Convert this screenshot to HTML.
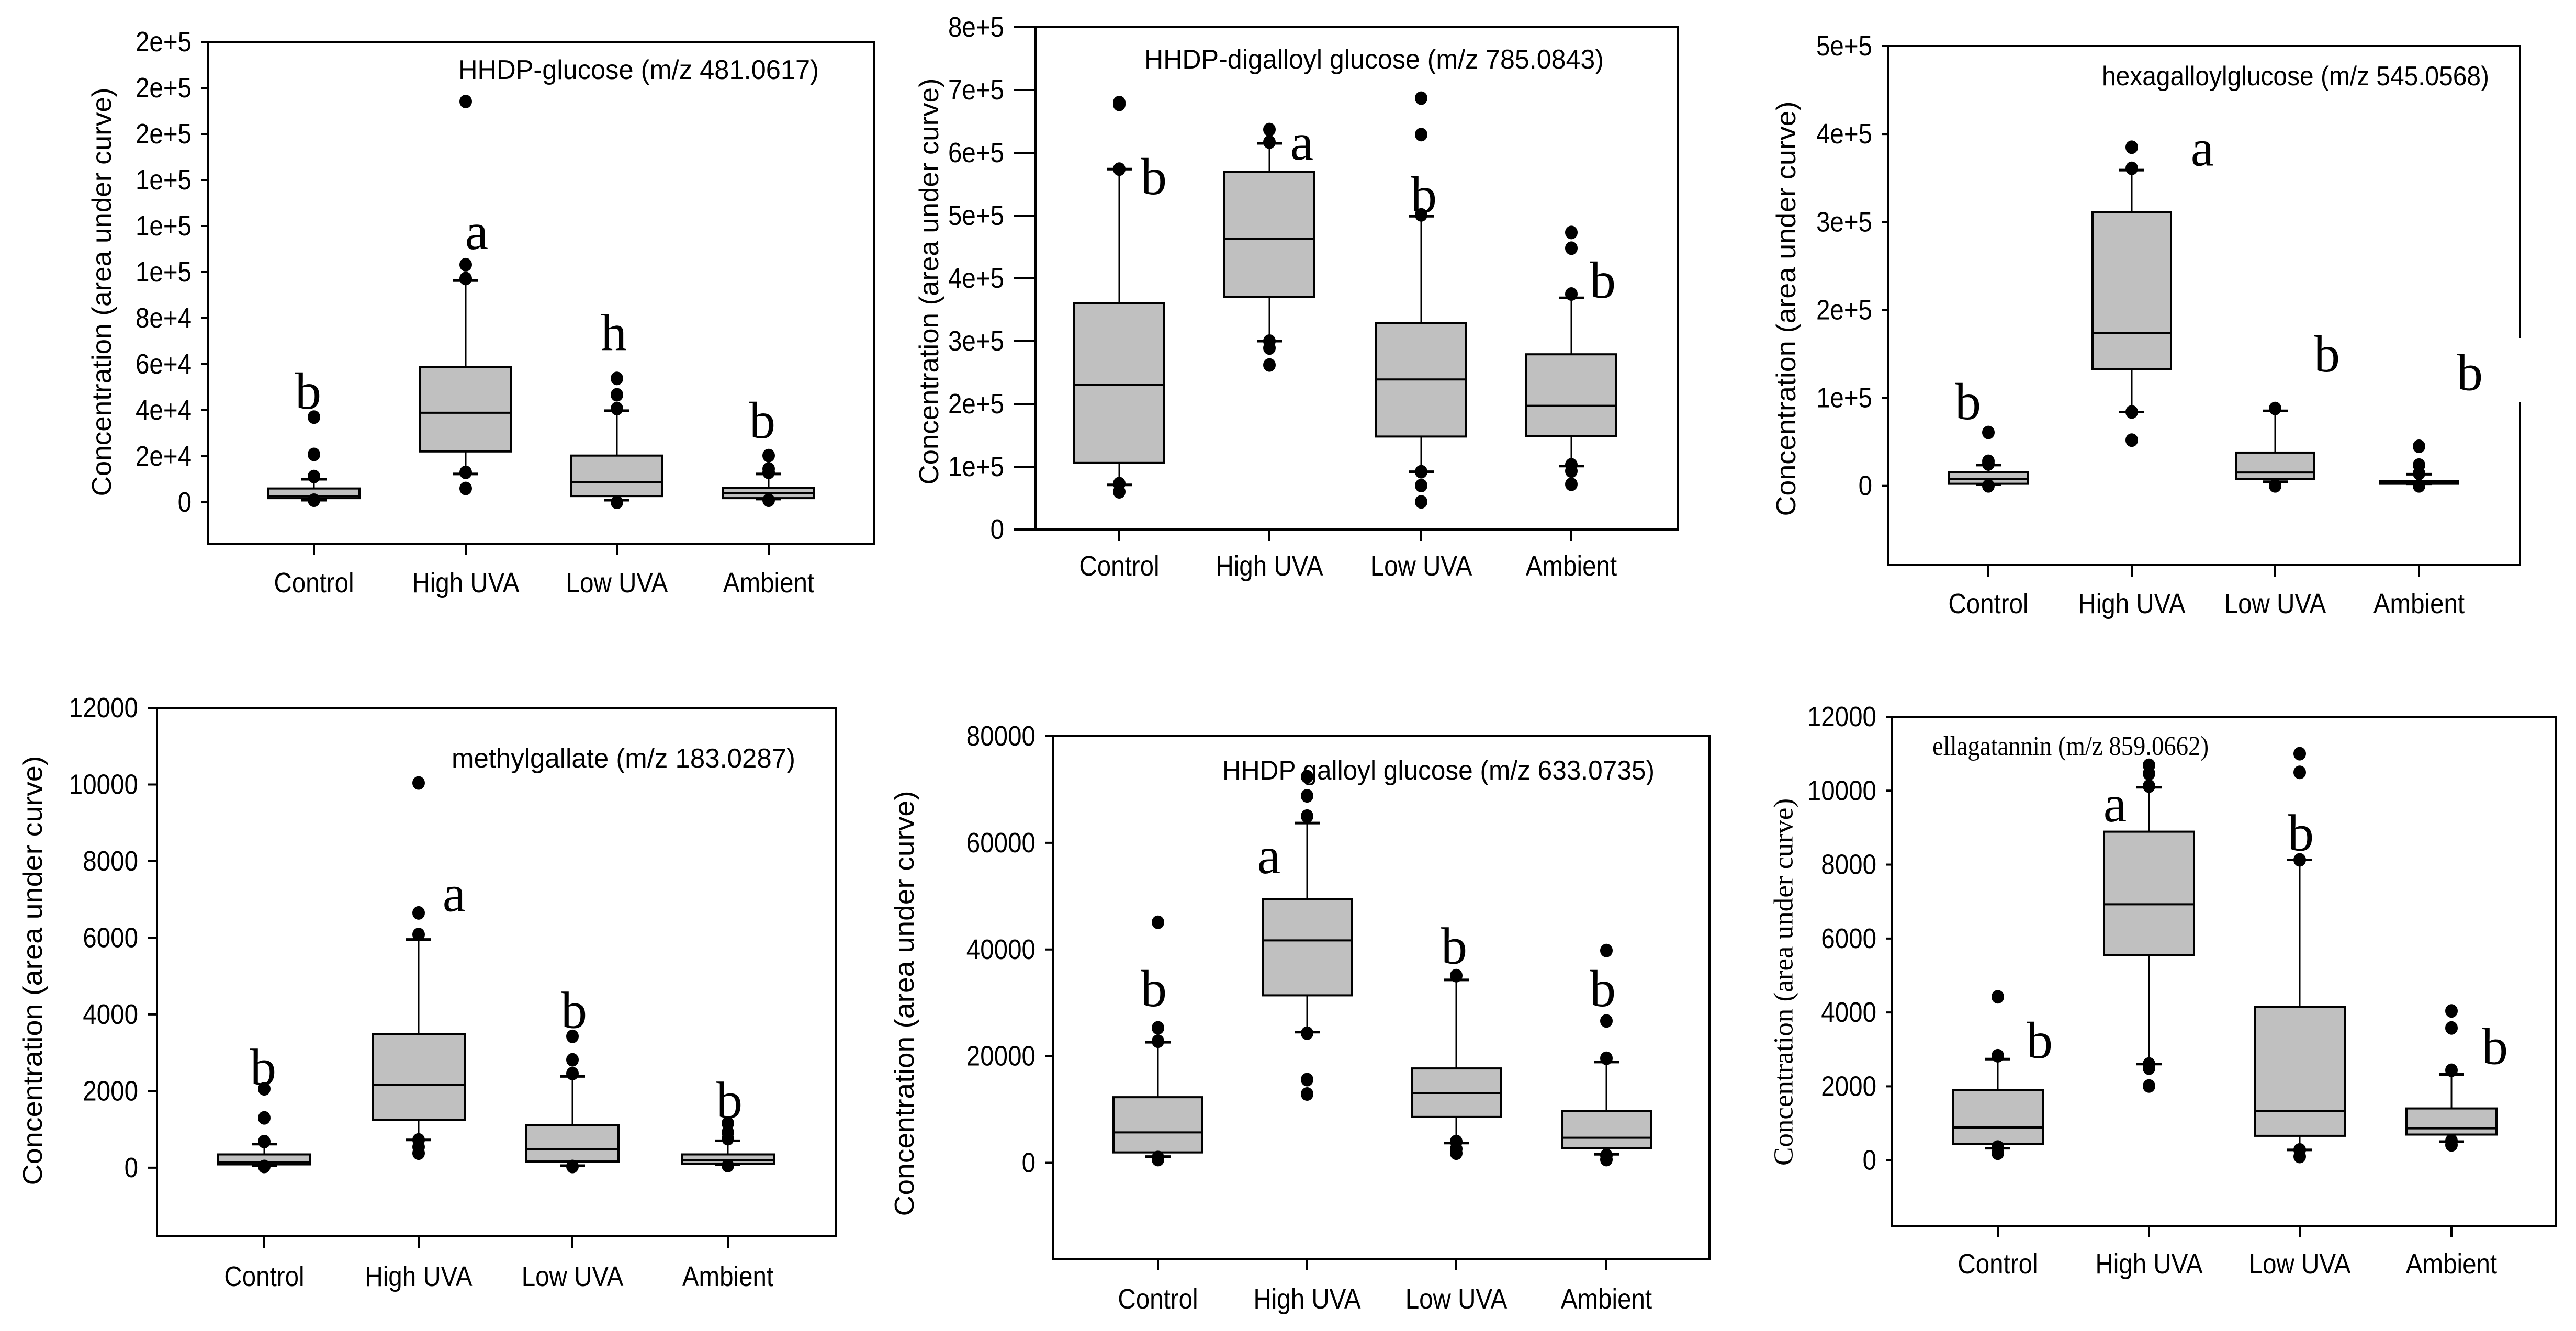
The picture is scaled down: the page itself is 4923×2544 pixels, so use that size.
<!DOCTYPE html>
<html><head><meta charset="utf-8"><title>Concentration box plots</title>
<style>html,body{margin:0;padding:0;background:#fff;}svg{display:block;}</style></head>
<body>
<svg id="fig" xmlns="http://www.w3.org/2000/svg" width="4923" height="2544" viewBox="0 0 4923 2544"></svg>
<script>
const categories = ["Control","High UVA","Low UVA","Ambient"];

// Panel 1: HHDP-glucose
const p1Q1 = [1800, 22100, 2700, 1800];
const p1Med = [2700, 38900, 8700, 4000];
const p1Q3 = [6000, 58800, 20300, 6300];
const p1Lo = [900, 12300, 900, 1400];
const p1Hi = [10000, 96300, 39800, 12300];
const p1Out = [[37000,20800,11200,900],[174100,103200,97200,13000,6000],[53800,46700,40700,0],[20300,14500,13000,900]];
const p1Ticks = [0,20000,40000,60000,80000,100000,120000,140000,160000,180000,200000];
const p1TickLabels = ["0","2e+4","4e+4","6e+4","8e+4","1e+5","1e+5","1e+5","2e+5","2e+5","2e+5"];
const p1Letters = ["b","a","h","b"];
const p1LetterVal = [40700,110000,66000,28000];

// Panel 2: HHDP-digalloyl glucose
const p2Q1 = [106000, 370000, 148000, 149000];
const p2Med = [230000, 463000, 239000, 197000];
const p2Q3 = [360000, 570000, 329000, 279000];
const p2Lo = [71000, 300000, 92000, 101000];
const p2Hi = [574000, 615000, 499000, 369000];
const p2Out = [[677000,680000,574000,73000,60000],[637000,617000,300000,289000,262000],[687000,629000,501000,92000,70000,44000],[473000,448000,375000,103000,93000,72000]];
const p2Ticks = [0,100000,200000,300000,400000,500000,600000,700000,800000];
const p2TickLabels = ["0","1e+5","2e+5","3e+5","4e+5","5e+5","6e+5","7e+5","8e+5"];
const p2Letters = ["b","a","b","b"];
const p2LetterVal = [534000,589000,505000,369000];

// Panel 3: hexagalloylglucose
const p3Q1 = [2400, 133000, 8100, 2400];
const p3Med = [8100, 174000, 15200, 3800];
const p3Q3 = [15600, 311000, 37900, 5700];
const p3Lo = [1400, 84000, 4700, 2400];
const p3Hi = [23700, 359000, 85300, 13300];
const p3Out = [[60700,28000,24900,0],[385000,361000,84000,52000],[88000,0],[45000,23700,14200,0]];
const p3Ticks = [0,100000,200000,300000,400000,500000];
const p3TickLabels = ["0","1e+5","2e+5","3e+5","4e+5","5e+5"];
const p3Letters = ["b","a","b","b"];
const p3LetterVal = [75800,364000,130000,109000];

// Panel 4: methylgallate
const p4Q1 = [87, 1245, 162, 108];
const p4Med = [141, 2166, 487, 195];
const p4Q3 = [347, 3487, 1116, 347];
const p4Lo = [54, 726, 54, 87];
const p4Hi = [617, 5957, 2383, 704];
const p4Out = [[2058,1300,682,32],[10040,6649,6086,726,541,379],[3428,2816,2458,32],[1159,920,758,54]];
const p4Ticks = [0,2000,4000,6000,8000,10000,12000];
const p4TickLabels = ["0","2000","4000","6000","8000","10000","12000"];
const p4Letters = ["b","a","b","b"];
const p4LetterVal = [2166,6693,3650,1300];

// Panel 5: HHDP galloyl glucose
const p5Q1 = [1950, 31400, 8600, 2700];
const p5Med = [5700, 41700, 13100, 4700];
const p5Q3 = [12300, 49400, 17700, 9700];
const p5Lo = [1170, 24500, 3700, 1600];
const p5Hi = [22600, 63700, 34300, 18900];
const p5Out = [[45100,25300,22800,1000,600],[72400,68800,65000,24300,15600,12900],[35100,4000,2600,1800],[39800,26600,19600,1400,600]];
const p5Ticks = [0,20000,40000,60000,80000];
const p5TickLabels = ["0","20000","40000","60000","80000"];
const p5Letters = ["b","a","b","b"];
const p5LetterVal = [29400,54300,37400,29400];

// Panel 6: ellagatannin
const p6Q1 = [438, 5546, 662, 696];
const p6Med = [887, 6926, 1336, 864];
const p6Q3 = [1897, 8891, 4153, 1403];
const p6Lo = [326, 2604, 281, 505];
const p6Hi = [2739, 10092, 8128, 2324];
const p6Out = [[4423,2829,359,191],[10687,10462,10125,2604,2492,2009],[11001,10496,8128,281,101],[4041,3581,2436,528,415]];
const p6Ticks = [0,2000,4000,6000,8000,10000,12000];
const p6TickLabels = ["0","2000","4000","6000","8000","10000","12000"];
const p6Letters = ["b","a","b","b"];
const p6LetterVal = [2773,9172,8386,2604];

const SANS = '"Liberation Sans", Arial, sans-serif';
const SERIF = '"Liberation Serif", "Times New Roman", serif';
const NS = "http://www.w3.org/2000/svg";
const svg = document.getElementById("fig");

const panels = [
 {key:"hhdp-glucose", title:"HHDP-glucose (m/z 481.0617)", L:398,R:1671,T:80,B:1039,vmin:-17950,vmax:200000,cx:[600,890,1179,1469],hw:87,tick:14,
  tx1:876,tx2:1565,tb:151,tSerif:false,ytX:195,ytY:558,ytLen:781,ytSerif:false,xlB:1132,ldx:[-11,21,-6,-12],
  q1:p1Q1,med:p1Med,q3:p1Q3,lo:p1Lo,hi:p1Hi,out:p1Out,ticks:p1Ticks,tl:p1TickLabels,let:p1Letters,lv:p1LetterVal},
 {key:"hhdp-digalloyl-glucose", title:"HHDP-digalloyl glucose (m/z 785.0843)", L:1979,R:3207,T:52,B:1012,vmin:0,vmax:800000,cx:[2139,2426,2716,3003],hw:86,tick:42,
  tx1:2187,tx2:3065,tb:131,tSerif:false,ytX:1776,ytY:538,ytLen:777,ytSerif:false,xlB:1100,ldx:[66,62,5,60],
  q1:p2Q1,med:p2Med,q3:p2Q3,lo:p2Lo,hi:p2Hi,out:p2Out,ticks:p2Ticks,tl:p2TickLabels,let:p2Letters,lv:p2LetterVal},
 {key:"hexagalloylglucose", title:"hexagalloylglucose (m/z 545.0568)", L:3608,R:4816,T:88,B:1080,vmin:-90000,vmax:500000,cx:[3800,4074,4348,4623],hw:75,tick:12,
  tx1:4017,tx2:4757,tb:163,tSerif:false,ytX:3414,ytY:590,ytLen:793,ytSerif:false,xlB:1172,ldx:[-39,135,99,97],gap:[646,769],
  q1:p3Q1,med:p3Med,q3:p3Q3,lo:p3Lo,hi:p3Hi,out:p3Out,ticks:p3Ticks,tl:p3TickLabels,let:p3Letters,lv:p3LetterVal},
 {key:"methylgallate", title:"methylgallate (m/z 183.0287)", L:300,R:1597,T:1353,B:2363,vmin:-1790,vmax:12000,cx:[505,800,1094,1391],hw:88,tick:18,
  tx1:863,tx2:1520,tb:1467,tSerif:false,ytX:63,ytY:1855,ytLen:821,ytSerif:false,xlB:2458,ldx:[-2,68,3,3],
  q1:p4Q1,med:p4Med,q3:p4Q3,lo:p4Lo,hi:p4Hi,out:p4Out,ticks:p4Ticks,tl:p4TickLabels,let:p4Letters,lv:p4LetterVal},
 {key:"hhdp-galloyl-glucose", title:"HHDP galloyl glucose (m/z 633.0735)", L:2013,R:3267,T:1407,B:2406,vmin:-18000,vmax:80000,cx:[2213,2498,2783,3070],hw:85,tick:16,
  tx1:2336,tx2:3162,tb:1490,tSerif:false,ytX:1729,ytY:1918,ytLen:813,ytSerif:false,xlB:2501,ldx:[-8,-73,-4,-7],
  q1:p5Q1,med:p5Med,q3:p5Q3,lo:p5Lo,hi:p5Hi,out:p5Out,ticks:p5Ticks,tl:p5TickLabels,let:p5Letters,lv:p5LetterVal},
 {key:"ellagatannin", title:"ellagatannin (m/z 859.0662)", L:3616,R:4884,T:1370,B:2343,vmin:-1774,vmax:12000,cx:[3818,4107,4395,4685],hw:86,tick:12,
  tx1:3693,tx2:4221,tb:1443,tSerif:true,ytX:3409,ytY:1877,ytLen:702,ytSerif:true,xlB:2434,ldx:[80,-65,2,83],
  q1:p6Q1,med:p6Med,q3:p6Q3,lo:p6Lo,hi:p6Hi,out:p6Out,ticks:p6Ticks,tl:p6TickLabels,let:p6Letters,lv:p6LetterVal}
];

function mk(tag, attrs, parent){
  const e = document.createElementNS(NS, tag);
  for (const k in attrs) e.setAttribute(k, attrs[k]);
  (parent||svg).appendChild(e);
  return e;
}
function condense(t, f){
  const len = t.getComputedTextLength();
  if (len > 0) { t.setAttribute("textLength", (len * f).toFixed(1)); t.setAttribute("lengthAdjust", "spacingAndGlyphs"); }
}

panels.forEach(function(p){
  const g = mk("g", {});
  
  
  const y = function(v){ return p.B - (v - p.vmin) / (p.vmax - p.vmin) * (p.B - p.T); };

  const t = mk("text", {x:p.tx1, y:p.tb, "font-family": p.tSerif?SERIF:SANS, "font-size":52, textLength:p.tx2-p.tx1, lengthAdjust:"spacingAndGlyphs"}, g);
  t.textContent = p.title;
  
  

  const yt = mk("text", {x:p.ytX, y:p.ytY, "font-family": p.ytSerif?SERIF:SANS, "font-size":52, "text-anchor":"middle", "dominant-baseline":"central",
    transform:"rotate(-90 "+p.ytX+" "+p.ytY+")", textLength:p.ytLen, lengthAdjust:"spacingAndGlyphs"}, g);
  yt.textContent = "Concentration (area under curve)";
  
  

  p.ticks.forEach(function(v, i){
    const ty = y(v);
    const tk = mk("line", {x1:p.L - p.tick, x2:p.L, y1:ty, y2:ty, stroke:"#000", "stroke-width":4}, g);
    
    
    const tl = mk("text", {x:p.L - p.tick - 18, y:ty, "font-family":SANS, "font-size":54, "text-anchor":"end", "dominant-baseline":"central"}, g);
    tl.textContent = p.tl[i];
    
    
    condense(tl, 0.88);
  });

  categories.forEach(function(c, i){
    const x = p.cx[i], hw = p.hw, cap = 24;
    const bg = mk("g", {}, g);
    
    
    mk("line", {x1:x, x2:x, y1:y(p.hi[i]), y2:y(p.q3[i]), stroke:"#000", "stroke-width":3}, bg);
    mk("line", {x1:x, x2:x, y1:y(p.q1[i]), y2:y(p.lo[i]), stroke:"#000", "stroke-width":3}, bg);
    mk("line", {x1:x-cap, x2:x+cap, y1:y(p.hi[i]), y2:y(p.hi[i]), stroke:"#000", "stroke-width":5}, bg);
    mk("line", {x1:x-cap, x2:x+cap, y1:y(p.lo[i]), y2:y(p.lo[i]), stroke:"#000", "stroke-width":5}, bg);
    mk("rect", {x:x-hw, y:y(p.q3[i]), width:2*hw, height:Math.max(2, y(p.q1[i]) - y(p.q3[i])), fill:"#c0c0c0", stroke:"#000", "stroke-width":4}, bg);
    mk("line", {x1:x-hw, x2:x+hw, y1:y(p.med[i]), y2:y(p.med[i]), stroke:"#000", "stroke-width":4}, bg);
    p.out[i].forEach(function(v){
      const d = mk("ellipse", {cx:x, cy:y(v), rx:12, ry:13, fill:"#000"}, bg);
      
      
    });
    mk("line", {x1:x, x2:x, y1:p.B, y2:p.B+22, stroke:"#000", "stroke-width":4}, g);
    const xl = mk("text", {x:x, y:p.xlB, "font-family":SANS, "font-size":54, "text-anchor":"middle"}, g);
    xl.textContent = c;
    
    
    condense(xl, 0.88);
    const lt = mk("text", {x:x + p.ldx[i], y:y(p.lv[i]), "font-family":SERIF, "font-size":100, "text-anchor":"middle"}, g);
    lt.textContent = p.let[i];
    
    
  });

  const fr = mk("rect", {x:p.L, y:p.T, width:p.R-p.L, height:p.B-p.T, fill:"none", stroke:"#000", "stroke-width":4}, g);
  
  
  if (p.gap) mk("rect", {x:p.R-4, y:p.gap[0], width:12, height:p.gap[1]-p.gap[0], fill:"#fff"}, g);
});
</script>
</body></html>
